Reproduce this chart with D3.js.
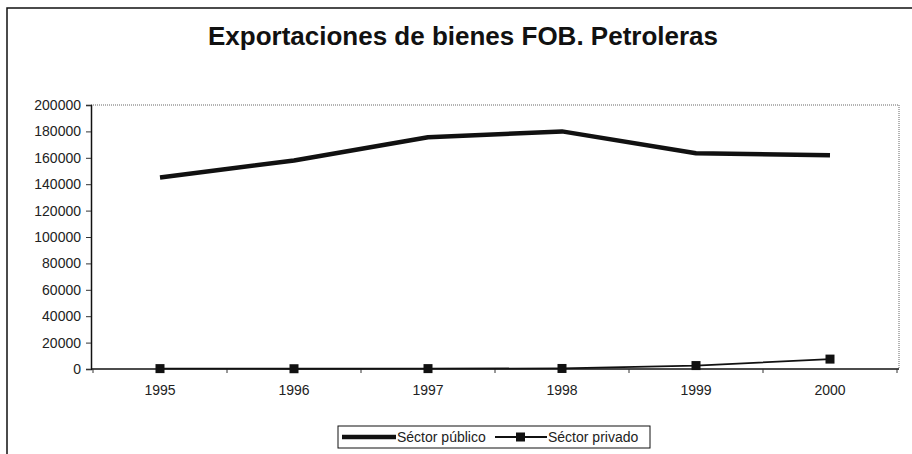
<!DOCTYPE html>
<html>
<head>
<meta charset="utf-8" />
<script src="https://cdn.jsdelivr.net/npm/d3@7"></script>
<style>
body { margin: 0; background: #ffffff; }
text { font-family: "Liberation Sans", Arial, sans-serif; fill: #222; }
.title { font-size: 26px; font-weight: bold; fill: #111; }
.tick-label { font-size: 14px; }
.legend-text { font-size: 14px; }
</style>
</head>
<body>
<div id="chart"></div>
<script>
var years = ["1995", "1996", "1997", "1998", "1999", "2000"];
var publico = [145000, 158000, 175500, 180000, 163500, 162000];
var privado = [300, 200, 300, 400, 2600, 7500];
var yTicks = [0, 20000, 40000, 60000, 80000, 100000, 120000, 140000, 160000, 180000, 200000];

var w = 912, h = 454;
var pLeft = 91, pRight = 899, pTop = 105, pBottom = 369;

var svg = d3.select("#chart").append("svg")
    .attr("width", w).attr("height", h);

// outer frame
svg.append("path")
    .attr("d", "M7,454 L7,8 L912,8")
    .attr("fill", "none").attr("stroke", "#111").attr("stroke-width", 1.5);

svg.append("text")
    .attr("class", "title")
    .attr("x", 463).attr("y", 45)
    .attr("text-anchor", "middle")
    .text("Exportaciones de bienes FOB. Petroleras");

var x = d3.scaleBand().domain(years).range([pLeft + 2, pRight - 2]);
var y = d3.scaleLinear().domain([0, 200000]).range([pBottom, pTop]);

// plot area dotted border (top, right)
svg.append("path")
    .attr("d", "M" + pLeft + "," + pTop + " L" + pRight + "," + pTop + " L" + pRight + "," + pBottom)
    .attr("fill", "none").attr("stroke", "#666").attr("stroke-width", 1)
    .attr("stroke-dasharray", "1,1");

// y axis
var yAxis = svg.append("g")
    .attr("transform", "translate(" + pLeft + ",0)")
    .call(d3.axisLeft(y).tickValues(yTicks).tickSize(5).tickPadding(5).tickFormat(d3.format("d")));
yAxis.select(".domain").attr("stroke", "#111").attr("stroke-width", 1.5);
yAxis.selectAll("text").style("font-size", "14px").style("font-family", "Liberation Sans, Arial, sans-serif").attr("fill", "#222");
yAxis.selectAll("line").attr("stroke", "#333");

// x axis
svg.append("line")
    .attr("x1", pLeft).attr("x2", pRight)
    .attr("y1", pBottom).attr("y2", pBottom)
    .attr("stroke", "#111").attr("stroke-width", 1.5);

var bounds = years.map(function(d) { return x(d); }).concat([x(years[years.length - 1]) + x.bandwidth()]);
svg.selectAll("line.xtick").data(bounds).enter().append("line")
    .attr("class", "xtick")
    .attr("x1", function(d) { return d; }).attr("x2", function(d) { return d; })
    .attr("y1", pBottom).attr("y2", pBottom + 4)
    .attr("stroke", "#333");

svg.selectAll("text.xlab").data(years).enter().append("text")
    .attr("class", "tick-label")
    .attr("x", function(d) { return x(d) + x.bandwidth() / 2; })
    .attr("y", pBottom + 26)
    .attr("text-anchor", "middle")
    .text(function(d) { return d; });

var cx = function(d, i) { return x(years[i]) + x.bandwidth() / 2; };

var line = d3.line()
    .x(function(d, i) { return cx(d, i); })
    .y(function(d) { return y(d); });

svg.append("path")
    .datum(privado)
    .attr("d", line)
    .attr("fill", "none").attr("stroke", "#111").attr("stroke-width", 1.8);

svg.selectAll("rect.mark").data(privado).enter().append("rect")
    .attr("class", "mark")
    .attr("x", function(d, i) { return cx(d, i) - 4.5; })
    .attr("y", function(d) { return y(d) - 4.5; })
    .attr("width", 9).attr("height", 9)
    .attr("fill", "#111");

svg.append("path")
    .datum(publico)
    .attr("d", line)
    .attr("fill", "none").attr("stroke", "#111").attr("stroke-width", 4.5)
    .attr("stroke-linejoin", "round");

// legend
var lg = svg.append("g");
lg.append("rect")
    .attr("x", 338).attr("y", 426).attr("width", 312).attr("height", 22)
    .attr("fill", "#fff").attr("stroke", "#111").attr("stroke-width", 1);
lg.append("line")
    .attr("x1", 342).attr("x2", 396).attr("y1", 437).attr("y2", 437)
    .attr("stroke", "#111").attr("stroke-width", 4.5);
lg.append("text").attr("class", "legend-text")
    .attr("x", 397).attr("y", 442).text("Séctor público");
lg.append("line")
    .attr("x1", 495).attr("x2", 547).attr("y1", 437).attr("y2", 437)
    .attr("stroke", "#111").attr("stroke-width", 1.8);
lg.append("rect")
    .attr("x", 516).attr("y", 432.5).attr("width", 9).attr("height", 9)
    .attr("fill", "#111");
lg.append("text").attr("class", "legend-text")
    .attr("x", 548).attr("y", 442).text("Séctor privado");
</script>
</body>
</html>
